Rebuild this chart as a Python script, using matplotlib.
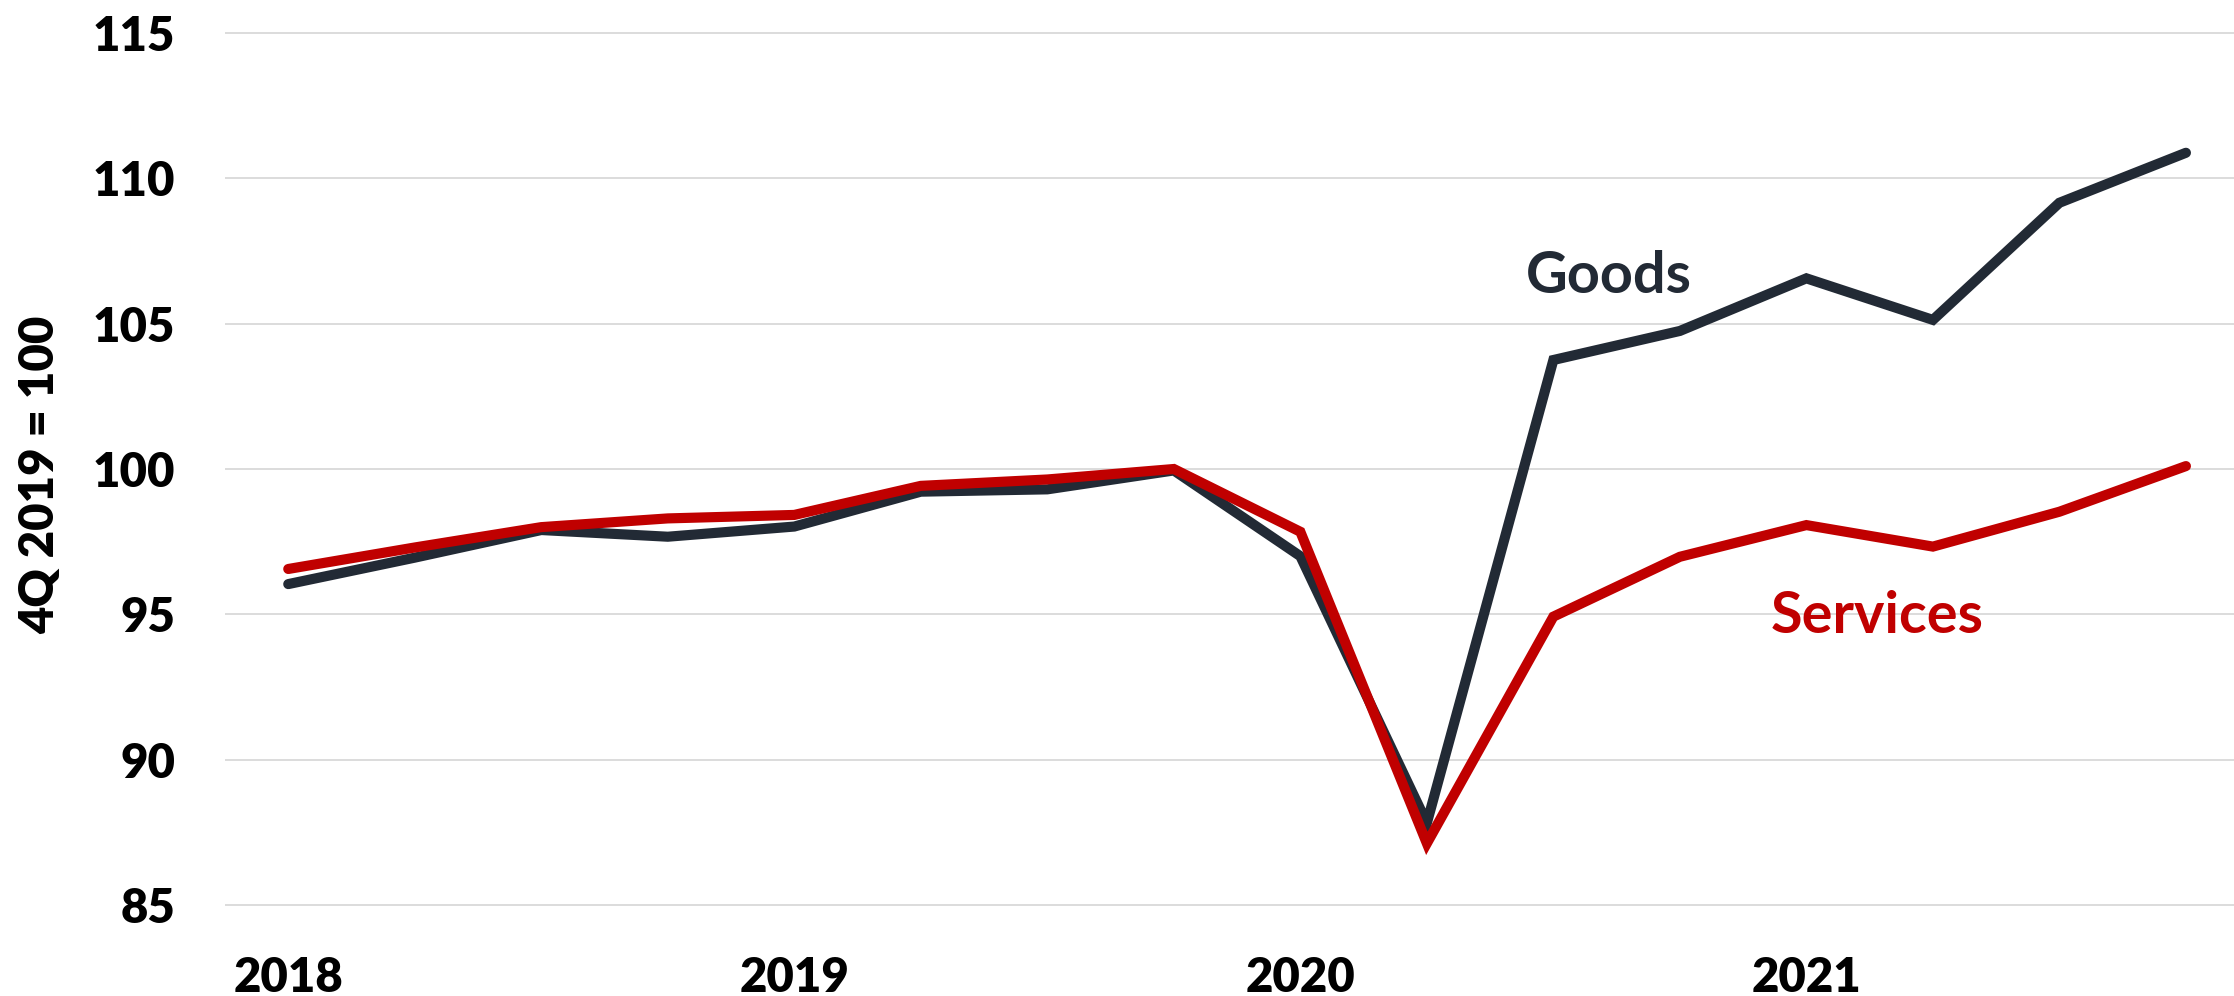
import matplotlib
matplotlib.use("Agg")
import matplotlib.pyplot as plt

# Quarterly real consumer spending, indexed to 4Q 2019 = 100
quarters = ["2018Q1", "2018Q2", "2018Q3", "2018Q4",
            "2019Q1", "2019Q2", "2019Q3", "2019Q4",
            "2020Q1", "2020Q2", "2020Q3", "2020Q4",
            "2021Q1", "2021Q2", "2021Q3", "2021Q4"]
goods = [96.04, 96.95, 97.9, 97.67, 98.02, 99.22, 99.30, 99.95,
         97.0, 87.82, 103.75, 104.75, 106.56, 105.13, 109.16, 110.88]
services = [96.56, 97.3, 98.0, 98.30, 98.42, 99.42, 99.64, 100.0,
            97.84, 87.12, 94.92, 96.98, 98.07, 97.33, 98.53, 100.10]
year_labels = ["2018", "2019", "2020", "2021"]
y_ticks = [85, 90, 95, 100, 105, 110, 115]

GOODS_COLOR = "#222A35"
SERVICES_COLOR = "#C00000"
FONT = "Lato"
AXIS_WEIGHT = 800

W, H = 2234, 996
fig = plt.figure(figsize=(W / 100, H / 100), dpi=100)
ax = fig.add_axes([225 / W, 1 - 919.5 / H, (W - 225) / W, (919.5 - 18.5) / H])

x = list(range(len(quarters)))
ax.plot(x, goods, color=GOODS_COLOR, lw=7.3, solid_capstyle="round",
        solid_joinstyle="miter", zorder=3)
ax.plot(x, services, color=SERVICES_COLOR, lw=7.3, solid_capstyle="round",
        solid_joinstyle="miter", zorder=4)

ax.set_xlim(-0.5, 15.38)
ax.set_ylim(84.5, 115.5)

ax.set_yticks(y_ticks)
ax.set_yticklabels([str(v) for v in y_ticks], fontfamily=FONT,
                   fontweight=AXIS_WEIGHT, fontsize=34)
ax.set_xticks([quarters.index(y + "Q1") for y in year_labels])
ax.set_xticklabels(year_labels, fontfamily=FONT, fontweight=AXIS_WEIGHT,
                   fontsize=34)
ax.tick_params(axis="y", length=0, pad=36)
ax.tick_params(axis="x", length=0, pad=26)

ax.grid(axis="y", color="#D9D9D9", lw=1.3, zorder=0)
ax.grid(axis="x", visible=False)
for s in ax.spines.values():
    s.set_visible(False)

fig.text(40 / W, 1 - 475 / H, "4Q 2019 = 100", rotation=90, ha="center",
         va="center", fontfamily=FONT, fontweight=AXIS_WEIGHT, fontsize=34)

ax.text(9.78, 106.05, "Goods", color=GOODS_COLOR, fontfamily=FONT,
        fontweight="bold", fontsize=41.5, ha="left", va="baseline")
ax.text(11.72, 94.36, "Services", color=SERVICES_COLOR, fontfamily=FONT,
        fontweight="bold", fontsize=41.5, ha="left", va="baseline")

fig.savefig("out.png", dpi=100, facecolor="white")
